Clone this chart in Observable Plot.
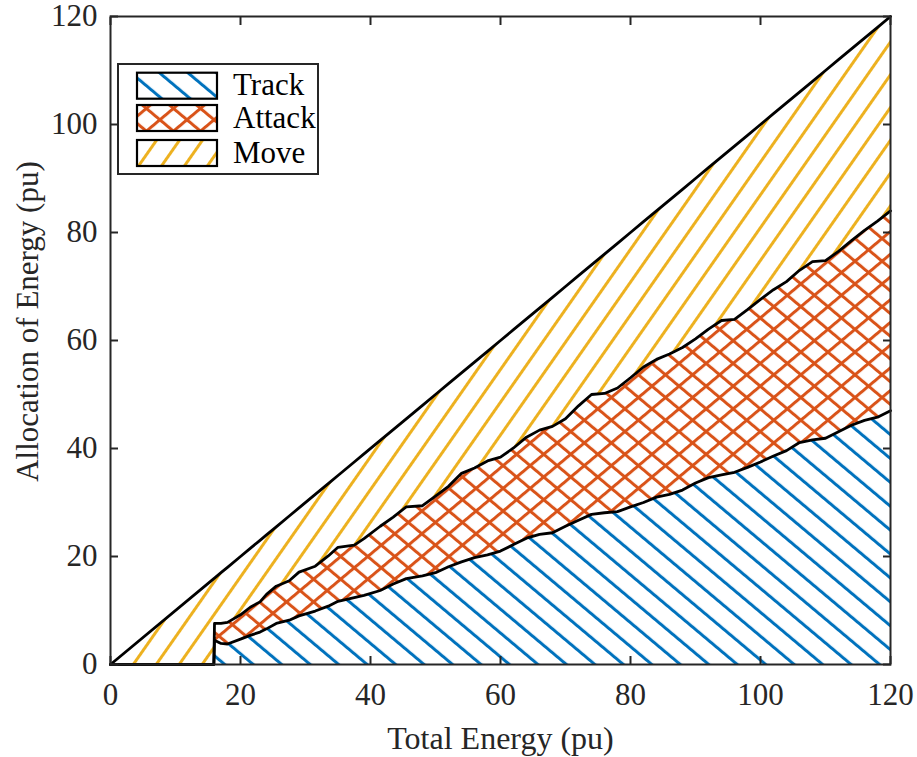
<!DOCTYPE html>
<html>
<head>
<meta charset="utf-8">
<script src="https://cdn.jsdelivr.net/npm/d3@7"></script>
<script src="https://cdn.jsdelivr.net/npm/@observablehq/plot@0.6"></script>
<style>
  body { margin: 0; background: #fff; }
  #wrap { position: relative; width: 917px; height: 757px; }
  #legend { position: absolute; left: 117px; top: 63px; }
</style>
</head>
<body>
<div id="wrap"></div>
<script>
// ---- data ----
const totalEnergy = [0, 15.9, 16, 17, 18, 20, 21.5, 23, 24, 25.5, 27.5, 29,
  31.5, 33.5, 35, 37.5, 39, 41.5, 43.5, 45.5, 48, 50,
  52, 54, 56, 58, 60, 62, 64, 66, 68, 70,
  72, 74, 76, 78, 80, 82, 84, 86, 88, 90,
  92, 94, 96, 98, 100, 102, 104, 106, 108, 110,
  112, 114, 116, 118, 120];
const track = [0, 0, 4.5, 3.9, 3.8, 4.7, 5.4, 6.0, 6.6, 7.6, 8.2, 9.0,
  9.9, 10.8, 11.7, 12.4, 12.8, 13.7, 14.9, 15.9, 16.4, 17.0,
  18.1, 19.0, 19.8, 20.3, 21.0, 22.2, 23.4, 24.1, 24.4, 25.6,
  26.7, 27.8, 28.1, 28.3, 29.2, 30.0, 31.0, 31.5, 32.3, 33.6,
  34.6, 35.1, 35.6, 36.5, 37.5, 38.6, 39.6, 41.1, 41.6, 41.9,
  43.1, 44.3, 45.2, 45.8, 47.0];
const attack = [0, 0, 3.1, 3.7, 4.0, 4.5, 5.2, 5.6, 6.4, 6.9, 7.3, 8.1,
  8.3, 9.3, 10.0, 9.7, 10.5, 11.9, 12.4, 13.3, 13.0, 14.2,
  14.9, 16.4, 16.6, 17.4, 17.4, 17.9, 18.7, 19.3, 19.7, 19.9,
  21.2, 22.2, 22.1, 22.9, 23.9, 25.1, 25.5, 26.0, 26.4, 26.7,
  27.5, 28.6, 28.3, 29.2, 30.1, 30.8, 31.3, 31.9, 33.0, 32.9,
  33.4, 34.2, 35.2, 36.3, 37.0];
const seriesNames = ["Track", "Attack", "Move"];
const seriesColors = ["#0072BD", "#D95319", "#EDB120"];
const xTicks = [0, 20, 40, 60, 80, 100, 120];
const yTicks = [0, 20, 40, 60, 80, 100, 120];

// stacked rows (Move is the remainder of total energy)
const rows = totalEnergy.map((x, i) => {
  const t = track[i], a = attack[i], m = x - t - a;
  return {x, trackTop: t, attackTop: t + a, moveTop: t + a + m};
});

const font = "Liberation Serif";
const ink = "#262626";

const chart = Plot.plot({
  width: 917, height: 757,
  marginLeft: 110, marginRight: 27, marginTop: 16, marginBottom: 93,
  x: {domain: [0, 120]},
  y: {domain: [0, 120]},
  style: {fontFamily: font, fontSize: "31px", color: ink, background: "#fff", overflow: "visible"},
  marks: [
    Plot.areaY(rows, {x: "x", y1: 0, y2: "trackTop", fill: "url(#hTrack)"}),
    Plot.areaY(rows, {x: "x", y1: "trackTop", y2: "attackTop", fill: "url(#hAttackA)"}),
    Plot.areaY(rows, {x: "x", y1: "trackTop", y2: "attackTop", fill: "url(#hAttackB)"}),
    Plot.areaY(rows, {x: "x", y1: "attackTop", y2: "moveTop", fill: "url(#hMove)"}),
    Plot.line(rows, {x: "x", y: "trackTop", stroke: "#000", strokeWidth: 2.8}),
    Plot.line(rows, {x: "x", y: "attackTop", stroke: "#000", strokeWidth: 2.8}),
    Plot.line(rows, {x: "x", y: "moveTop", stroke: "#000", strokeWidth: 2.8}),
    Plot.frame({stroke: ink, strokeWidth: 2}),
    // inward ticks on all four sides
    Plot.axisX(xTicks, {anchor: "bottom", tickSize: 8, dy: -8, tickFormat: () => "", label: null, stroke: ink, strokeWidth: 2}),
    Plot.axisX(xTicks, {anchor: "top", tickSize: 8, dy: 8, tickFormat: () => "", label: null, stroke: ink, strokeWidth: 2}),
    Plot.axisY(yTicks, {anchor: "left", tickSize: 8, dx: 8, tickFormat: () => "", label: null, stroke: ink, strokeWidth: 2}),
    Plot.axisY(yTicks, {anchor: "right", tickSize: 8, dx: -8, tickFormat: () => "", label: null, stroke: ink, strokeWidth: 2}),
    // tick labels
    Plot.axisX(xTicks, {anchor: "bottom", tickSize: 0, tickPadding: 18, label: null, fill: ink, fontFamily: font, fontSize: 31}),
    Plot.axisY(yTicks, {anchor: "left", tickSize: 0, tickPadding: 13, label: null, fill: ink, fontFamily: font, fontSize: 31}),
    // axis titles
    Plot.text(["Total Energy (pu)"], {frameAnchor: "bottom", dy: 74, lineAnchor: "middle", textAnchor: "middle", fill: ink, fontFamily: font, fontSize: 32}),
    Plot.text(["Allocation of Energy (pu)"], {frameAnchor: "left", rotate: -90, dx: -82, dy: -19, lineAnchor: "middle", textAnchor: "middle", fill: ink, fontFamily: font, fontSize: 31})
  ]
});

// hatch patterns
const patterns = `
<pattern id="hTrack" patternUnits="userSpaceOnUse" width="18.3" height="18.3" patternTransform="rotate(-50)">
  <rect x="0" y="0" width="3" height="18.3" fill="${seriesColors[0]}"/></pattern>
<pattern id="hAttackA" patternUnits="userSpaceOnUse" width="17.4" height="17.4" patternTransform="rotate(-50)">
  <rect x="0" y="0" width="3" height="17.4" fill="${seriesColors[1]}"/></pattern>
<pattern id="hAttackB" patternUnits="userSpaceOnUse" width="17.4" height="17.4" patternTransform="rotate(50)">
  <rect x="0" y="0" width="3" height="17.4" fill="${seriesColors[1]}"/></pattern>
<pattern id="hMove" patternUnits="userSpaceOnUse" width="18.8" height="18.8" patternTransform="rotate(35)">
  <rect x="0" y="0" width="3" height="18.8" fill="${seriesColors[2]}"/></pattern>`;
const ns = "http://www.w3.org/2000/svg";
const defs = document.createElementNS(ns, "defs");
defs.innerHTML = patterns;
chart.insertBefore(defs, chart.firstChild);

const wrap = document.getElementById("wrap");
wrap.appendChild(chart);

// legend (boxed, top-left inside the axes)
const fills = [["url(#hTrack)"], ["url(#hAttackA)", "url(#hAttackB)"], ["url(#hMove)"]];
const rowTop = [9.7, 42, 77];
const lg = d3.create("svg").attr("id", "legend").attr("width", 203).attr("height", 113);
lg.append("rect").attr("x", 1).attr("y", 1).attr("width", 200).attr("height", 110)
  .attr("fill", "#fff").attr("stroke", ink).attr("stroke-width", 2);
seriesNames.forEach((name, i) => {
  fills[i].forEach(f => lg.append("rect").attr("x", 20).attr("y", rowTop[i]).attr("width", 80).attr("height", 26)
    .attr("fill", f));
  lg.append("rect").attr("x", 20).attr("y", rowTop[i]).attr("width", 80).attr("height", 26)
    .attr("fill", "none").attr("stroke", "#000").attr("stroke-width", 2.2);
  lg.append("text").attr("x", 116).attr("y", rowTop[i] + 22.5).attr("fill", "#000")
    .attr("font-family", font).attr("font-size", 31).text(name);
});
wrap.appendChild(lg.node());
</script>
</body>
</html>
